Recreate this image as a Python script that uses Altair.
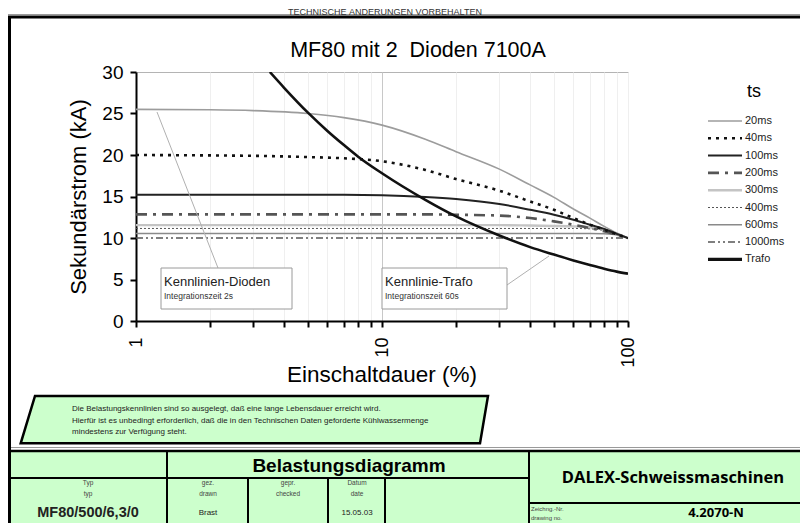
import altair as alt
import pandas as pd

# ---------------- data ----------------
duty = [1, 2, 3, 5, 7, 10, 15, 20, 30, 40, 50, 60, 70, 80, 90, 100]
ts_20ms = [25.5, 25.45, 25.35, 25.0, 24.5, 23.6, 21.9, 20.4, 18.3, 16.4, 14.9, 13.5, 12.4, 11.4, 10.6, 10.0]
ts_40ms = [20.0, 19.95, 19.9, 19.75, 19.6, 19.25, 18.2, 17.1, 15.7, 14.4, 13.4, 12.4, 11.6, 11.0, 10.45, 10.0]
ts_100ms = [15.2, 15.2, 15.2, 15.2, 15.2, 15.15, 14.95, 14.7, 14.1, 13.4, 12.8, 12.2, 11.6, 11.1, 10.5, 10.0]
ts_200ms = [12.85, 12.85, 12.85, 12.85, 12.85, 12.85, 12.85, 12.8, 12.7, 12.4, 12.0, 11.6, 11.2, 10.8, 10.4, 10.0]
ts_300ms = [11.55, 11.55, 11.55, 11.55, 11.55, 11.55, 11.55, 11.55, 11.55, 11.5, 11.45, 11.4, 11.3, 11.0, 10.5, 10.0]
ts_400ms = [11.15, 11.15, 11.15, 11.15, 11.15, 11.15, 11.15, 11.15, 11.15, 11.15, 11.15, 11.15, 11.1, 10.9, 10.5, 10.0]
ts_600ms = [10.55, 10.55, 10.55, 10.55, 10.55, 10.55, 10.55, 10.55, 10.55, 10.55, 10.55, 10.55, 10.55, 10.5, 10.35, 10.0]
ts_1000ms = [10.0, 10.0, 10.0, 10.0, 10.0, 10.0, 10.0, 10.0, 10.0, 10.0, 10.0, 10.0, 10.0, 10.0, 10.0, 10.0]

trafo_duty = [3.5, 4, 5, 6, 7, 8, 10, 15, 20, 30, 40, 50, 60, 70, 80, 90, 100]
trafo_current = [30.0, 28.1, 25.1, 22.9, 21.2, 19.8, 17.8, 14.6, 12.6, 10.3, 8.9, 8.0, 7.3, 6.75, 6.3, 5.95, 5.7]

series_names = ["20ms", "40ms", "100ms", "200ms", "300ms", "400ms", "600ms", "1000ms", "Trafo"]
ts_values = [ts_20ms, ts_40ms, ts_100ms, ts_200ms, ts_300ms, ts_400ms, ts_600ms, ts_1000ms]

x_ticks = [1, 2, 3, 4, 5, 6, 7, 8, 9, 10, 20, 30, 40, 50, 60, 70, 80, 90, 100]
y_ticks = [0, 5, 10, 15, 20, 25, 30]

chart_title = "MF80 mit 2\u00a0 Dioden 7100A"
x_title = "Einschaltdauer (%)"
y_title = "Sekundärstrom (kA)"
legend_title = "ts"
top_note = "TECHNISCHE ÄNDERUNGEN VORBEHALTEN"
note_lines = [
    "Die Belastungskennlinien sind so ausgelegt, daß eine lange Lebensdauer erreicht wird.",
    "Hierfür ist es unbedingt erforderlich, daß die in den Technischen Daten geforderte Kühlwassermenge",
    "mindestens zur Verfügung steht.",
]

rows = []
for name, vals in zip(series_names[:-1], ts_values):
    for d, v in zip(duty, vals):
        rows.append({"duty": d, "current": v, "series": name})
for d, v in zip(trafo_duty, trafo_current):
    rows.append({"duty": d, "current": v, "series": "Trafo"})
df = pd.DataFrame(rows)

# ---------------- styles / layout ----------------
FONT = "Liberation Sans"
W, H = 492, 249
OX, OY = 136, 72          # page position of plot origin
PAD = {"left": OX - 8, "top": OY - 8, "right": 800 - (OX + W), "bottom": 523 - (OY + H)}

styles = {
    "20ms": dict(color="#9c9c9c", strokeWidth=1.6),
    "40ms": dict(color="#111111", strokeWidth=2.6, strokeDash=[3, 5]),
    "100ms": dict(color="#222222", strokeWidth=2.0),
    "200ms": dict(color="#555555", strokeWidth=2.6, strokeDash=[11, 6, 3, 6]),
    "300ms": dict(color="#c4c4c4", strokeWidth=2.4),
    "400ms": dict(color="#555555", strokeWidth=1.0, strokeDash=[2, 2]),
    "600ms": dict(color="#8a8a8a", strokeWidth=1.5),
    "1000ms": dict(color="#555555", strokeWidth=1.5, strokeDash=[7, 3, 2, 3, 2, 3]),
    "Trafo": dict(color="#111111", strokeWidth=2.6),
}
draw_order = ["300ms", "600ms", "400ms", "1000ms", "200ms", "20ms", "100ms", "40ms", "Trafo"]


def px(x):
    return x - OX


def py(y):
    return y - OY


one = alt.Data(values=[{"k": 0}])


def rule(x1, y1, x2, y2, color="black", width=2.0, dash=None):
    kw = dict(color=color, strokeWidth=width)
    if dash:
        kw["strokeDash"] = dash
    return alt.Chart(one).mark_rule(**kw).encode(
        x=alt.value(px(x1)), y=alt.value(py(y1)), x2=alt.value(px(x2)), y2=alt.value(py(y2)))


def rect(x1, y1, x2, y2, fill, stroke=None, sw=0):
    kw = dict(fill=fill, opacity=1)
    if stroke:
        kw["stroke"] = stroke
        kw["strokeWidth"] = sw
    return alt.Chart(one).mark_rect(**kw).encode(
        x=alt.value(px(x1)), y=alt.value(py(y1)), x2=alt.value(px(x2)), y2=alt.value(py(y2)))


def label(s, x, y, size, align="center", baseline="middle", weight="normal",
          font=FONT, color="black", angle=0):
    kw = dict(align=align, baseline=baseline, fontSize=size, font=font,
              fontWeight=weight, color=color)
    if angle:
        kw["angle"] = angle
    return alt.Chart(one).mark_text(**kw).encode(
        x=alt.value(px(x)), y=alt.value(py(y)), text=alt.value(s))


layers = []

# frame and table background
layers.append(rule(8, 14.5, 800, 14.5, color="#9a9a9a", width=1))
layers.append(rule(8, 17, 800, 17, width=3))
layers.append(rule(9.5, 17, 9.5, 523, width=3))
layers.append(rule(11, 447.5, 800, 447.5, color="#9a9a9a", width=1))
layers.append(rect(11, 451, 800, 523, fill="#ccffcc"))
layers.append(rule(11, 451, 800, 451, width=2.5))
layers.append(rule(11, 478, 529, 478, width=2))
layers.append(rule(529, 503, 800, 503, width=2))
layers.append(rule(167, 451, 167, 523, width=2))
layers.append(rule(529, 451, 529, 523, width=2))
for xv in [248, 328, 385]:
    layers.append(rule(xv, 478, xv, 523, width=2))

# plot lines
X = alt.X("duty:Q",
          scale=alt.Scale(type="log", domain=[1, 100], nice=False),
          axis=alt.Axis(values=x_ticks, title=None,
                        labelExpr="datum.value == 1 || datum.value == 10 || datum.value == 100 ? format(datum.value, 'd') : ''",
                        labelAngle=270, labelFontSize=18, labelFont=FONT, labelColor="black",
                        labelPadding=10, labelFlush=False, labelOverlap=False,
                        tickSize=6, tickWidth=2, tickColor="black",
                        domainColor="black", domainWidth=2,
                        grid=True, gridWidth=1,
                        gridColor={"condition": {"test": "datum.value == 10", "value": "#c8c8c8"},
                                   "value": "#efefef"}))
Y = alt.Y("current:Q",
          scale=alt.Scale(domain=[0, 30], nice=False),
          axis=alt.Axis(values=y_ticks, title=None, labelFontSize=19, labelFont=FONT,
                        labelColor="black", labelPadding=7, labelFlush=False,
                        tickSize=6, tickWidth=2, tickColor="black",
                        domainColor="black", domainWidth=2, grid=False))

for name in draw_order:
    layers.append(
        alt.Chart(df).transform_filter(alt.datum.series == name)
        .mark_line(clip=True, interpolate="monotone", **styles[name])
        .encode(x=X, y=Y)
    )

# annotation boxes
layers.append(rule(157, 112, 218, 268, color="#b0b0b0", width=1))
layers.append(rule(507, 285, 549, 256, color="#b0b0b0", width=1))
layers.append(rect(161, 268, 292, 309, fill="white", stroke="#9a9a9a", sw=1))
layers.append(rect(382, 268, 507, 309, fill="white", stroke="#9a9a9a", sw=1))
layers.append(label("Kennlinien-Dioden", 164, 285.5, 13, align="left", baseline="alphabetic", color="#222"))
layers.append(label("Integrationszeit 2s", 164, 299, 8.5, align="left", baseline="alphabetic", color="#333"))
layers.append(label("Kennlinie-Trafo", 385, 285.5, 13, align="left", baseline="alphabetic", color="#222"))
layers.append(label("Integrationszeit 60s", 385, 299, 8.5, align="left", baseline="alphabetic", color="#333"))

# titles
layers.append(label(top_note, 385, 12, 9, color="#333"))
layers.append(label(chart_title, 418, 57, 21.5, baseline="alphabetic"))
layers.append(label(x_title, 382, 382, 22.5, baseline="alphabetic"))
layers.append(label(y_title, 86, 197, 22, baseline="alphabetic", angle=270))

# manual legend
layers.append(label(legend_title, 754, 97, 18, baseline="alphabetic"))
for i, name in enumerate(series_names):
    yy = 121 + 17.3 * i
    st = dict(styles[name])
    lw = st["strokeWidth"] + (0.8 if name == "Trafo" else 0)
    layers.append(rule(708, yy, 742, yy, color=st["color"], width=lw, dash=st.get("strokeDash")))
    layers.append(label(name, 745, yy, 11, align="left", color="#222"))

# green note parallelogram
para = {"tl": (35, 396), "tr": (488, 396), "br": (480, 443.3), "bl": (20.7, 443.3)}
cx = (20.7 + 488) / 2
cy = (396 + 443.3) / 2
r = (488 - 20.7) / 2
pts = [para["tl"], para["tr"], para["br"], para["bl"]]
path = "M" + "L".join(f"{(x - cx) / r:.4f},{(y - cy) / r:.4f}" for x, y in pts) + "Z"
layers.append(
    alt.Chart(one).mark_point(shape=path, size=(2 * r) ** 2, filled=True, fill="#ccffcc",
                              stroke="black", strokeWidth=2.5, opacity=1, fillOpacity=1,
                              strokeOpacity=1)
    .encode(x=alt.value(px(cx)), y=alt.value(py(cy)))
)
for i, line in enumerate(note_lines):
    layers.append(label(line, 72, 409.3 + 11.2 * i, 8, align="left", color="#222"))

# table texts
layers.append(label("Belastungsdiagramm", 349, 466, 19, weight="bold"))
layers.append(label("DALEX-Schweissmaschinen", 673, 478, 16.5, weight="bold", font="Open Sans"))
layers.append(label("Zeichng.-Nr.", 531, 509, 6, align="left", color="#444"))
layers.append(label("drawing no.", 531, 518, 6, align="left", color="#444"))
layers.append(label("4.2070-N", 716, 513, 13, weight="bold", font="Open Sans"))
cells = [
    (88, ["Typ", "typ"], "MF80/500/6,3/0", 14.5, "bold"),
    (208, ["gez.", "drawn"], "Brast", 8, "normal"),
    (288, ["gepr.", "checked"], "", 8, "normal"),
    (357, ["Datum", "date"], "15.05.03", 8, "normal"),
]
for cxx, heads, val, fs, fw in cells:
    layers.append(label(heads[0], cxx, 483, 6.5, color="#444"))
    layers.append(label(heads[1], cxx, 494, 6.5, color="#444"))
    if val:
        layers.append(label(val, cxx, 513, fs, weight=fw, color="#222"))

chart = (
    alt.layer(*layers)
    .properties(width=W, height=H, padding=PAD, autosize=alt.AutoSizeParams(type="none"),
                background="white")
    .configure_view(stroke="#b4b4b4", strokeWidth=1)
)

chart.save("out.html", embed_options={"renderer": "svg", "actions": False})
